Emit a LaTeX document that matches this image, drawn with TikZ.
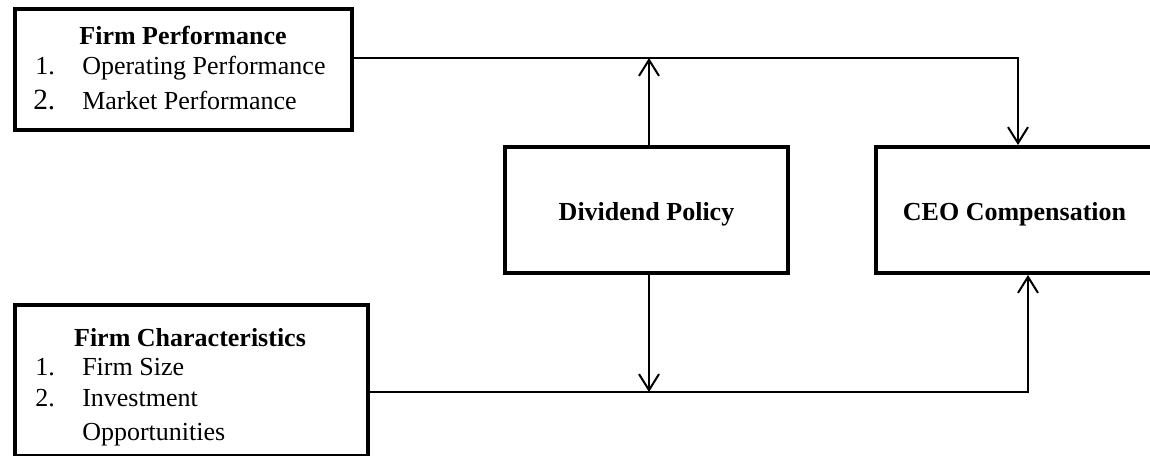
\documentclass[tikz,border=0pt]{standalone}
\usepackage{fontspec}
\setmainfont{Liberation Serif}
\usetikzlibrary{arrows.meta}
\tikzstyle{block} = [rectangle, draw, line width=3pt, inner sep=0pt]
\tikzstyle{title} = [font=\fontsize{19.5pt}{23pt}\selectfont\bfseries, text height=15pt, text depth=0pt]
\tikzstyle{head} = [anchor=base, inner sep=0pt, font=\fontsize{19.5pt}{23pt}\selectfont\bfseries]
\tikzstyle{item} = [anchor=base west, inner sep=0pt, font=\fontsize{19.5pt}{23pt}\selectfont]
\tikzstyle{arrow} = [line width=1.5pt, -{Straight Barb[length=12pt,width=15pt]}]
\begin{document}
\begin{tikzpicture}[x=0.75pt,y=-0.75pt]
            \useasboundingbox (0,0) rectangle (1150,456);
            \node [block, minimum width=252.75pt, minimum height=90.75pt] at (183.5,69.5) (perf) {};
            \node [block, minimum width=264.75pt, minimum height=113.25pt] at (191.5,380.5) (chars) {};
            \node [block, title, minimum width=212.25pt, minimum height=94.5pt] at (646.5,210) (div) {Dividend Policy};
            \node [block, title, minimum width=207.75pt, minimum height=94.5pt] at (1014.5,210) (ceo) {CEO Compensation};

            % box texts
            \node [head] at (183,45) (perfhead) {Firm Performance};
            \node [item] at (35,75) (perf1n) {1.};
            \node [item] at (82,75) (perf1) {Operating Performance};
            \node [item, font=\fontsize{22pt}{26pt}\selectfont] at (33,110) (perf2n) {2.};
            \node [item] at (82,110) (perf2) {Market Performance};
            \node [head] at (190,346) (charhead) {Firm Characteristics};
            \node [item] at (35,375) (char1n) {1.};
            \node [item] at (82,375) (char1) {Firm Size};
            \node [item] at (35,406) (char2n) {2.};
            \node [item] at (82,406) (char2) {Investment};
            \node [item] at (82,440) (char2b) {Opportunities};

            \coordinate (perfR) at (1018,58);
            \coordinate (charR) at (1028,392);
            \coordinate (divUp) at (649,58);
            \coordinate (divDown) at (649,392);

            \draw [arrow] (div.north -| divUp) -- (divUp);
            \draw [arrow] (div.south -| divDown) -- (divDown);
            \draw [arrow] (perf.east |- perfR) -- (perfR) -- (ceo.north -| perfR);
            \draw [arrow] (chars.east |- charR) -- (charR) -- (ceo.south -| charR);
\end{tikzpicture}
\end{document}
